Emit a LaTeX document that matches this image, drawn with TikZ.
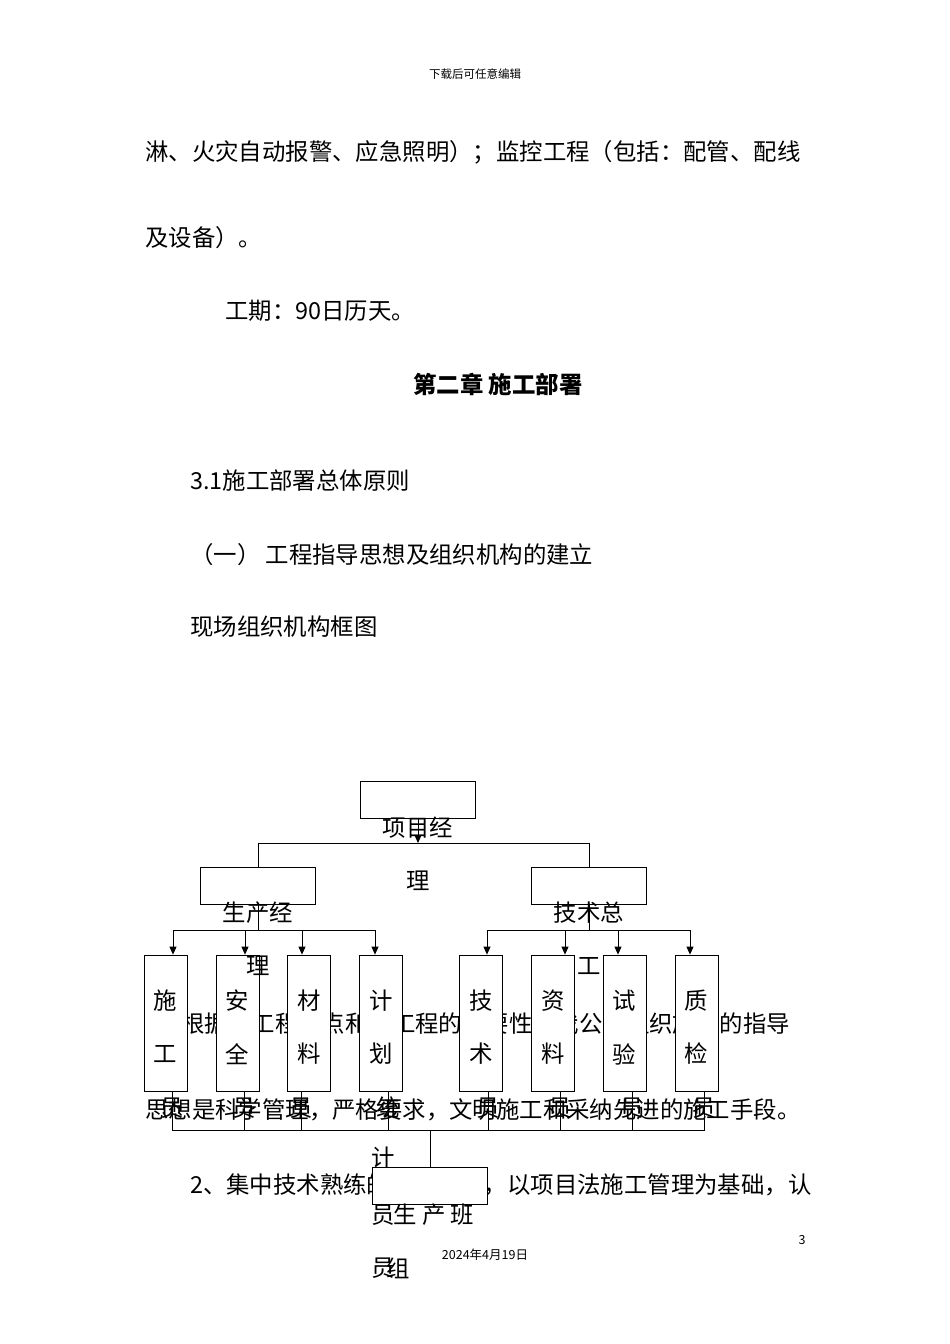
\documentclass[tikz,border=0pt]{standalone}
\usepackage{fontspec}
\setmainfont{Noto Sans CJK SC}
\usetikzlibrary{arrows.meta,calc}
\begin{document}
\begin{tikzpicture}[x=1pt,y=-1pt,
  body/.style={font=\fontsize{23.4}{28}\selectfont,inner sep=0pt,anchor=west},
  lab/.style={font=\fontsize{23.4}{28}\selectfont,inner sep=0pt},
  hbox/.style={draw,fill=white,line width=0.8pt,minimum width=115pt,minimum height=37pt,inner sep=0pt},
  vbox/.style={draw,fill=white,line width=0.8pt,minimum width=43pt,minimum height=136pt,inner sep=0pt},
  ln/.style={line width=0.8pt},
  arr/.style={line width=0.8pt,-{Triangle[length=8pt,width=7pt]}}]
\useasboundingbox (0,0) rectangle (950,1344);
\node[font=\fontsize{11.5}{13}\selectfont] (hdr) at (475,74) {下载后可任意编辑};
\node[body] (t1) at (145,152) {淋、火灾自动报警、应急照明）；监控工程（包括：配管、配线};
\node[body] (t2) at (145,238) {及设备）。};
\node[body] (t3) at (225,311) {工期：90日历天。};
\node[lab,font=\fontsize{23.4}{28}\selectfont\bfseries] (t4) at (498,384) {第二章 施工部署};
\node[body] (t5) at (190,481) {3.1施工部署总体原则};
\node[body] (t6) at (190,555) {（一） 工程指导思想及组织机构的建立};
\node[body] (t7) at (190,627) {现场组织机构框图};
\node[body] (t8) at (145,1024) {1、根据本工程特点和本工程的重要性，我公司组织施工的指导};
\node[body] (t9) at (145,1110) {思想是科学管理，严格要求，文明施工和采纳先进的施工手段。};
\node[body] (t10) at (190,1185) {2、集中技术熟练的生产班组，以项目法施工管理为基础，认};
\node[font=\fontsize{12.5}{14}\selectfont] (pg) at (802,1240) {3};
\node[font=\fontsize{12.5}{14}\selectfont] (dt) at (485,1255) {2024年4月19日};
% boxes
\node[hbox] (pm) at (418,799.5) {};
\node[hbox] (sc) at (258,886) {};
\node[hbox] (js) at (589,886) {};
\node[hbox] (bz) at (430,1185.5) {};
\foreach \n/\x/\a/\b in {v1/165.5/施/工,v2/237.5/安/全,v3/309/材/料,v4/381/计/划,v5/481/技/术,v6/553/资/料,v7/624.5/试/验,v8/696.5/质/检}{
  \node[vbox] (\n) at (\x,1023) {};
  \node[lab] at (\x,1001) {\a};
  \node[lab] at (\x,1054) {\b};
}
% labels
\node[lab] (l1) at (418,828) {项目经};
\node[lab] (l1b) at (418,881) {理};
\node[lab] (l2) at (258,913) {生产经};
\node[lab] (l2b) at (258,966) {理};
\node[lab] (l3) at (589,913) {技术总};
\node[lab] (l3b) at (589,966) {工};
\foreach \x in {172,244,301,488,560,632,704}{\node[lab] at (\x,1108) {员};}
\node[lab] at (388,1108) {统};
\node[lab] at (383,1158) {计};
\node[lab] at (383,1215) {员};
\node[lab] at (383,1268) {员};
\node[lab] (l4) at (434,1215) {生 产 班};
\node[lab] (l4b) at (398,1268) {组};
% connectors
\coordinate (j0) at (418,843);
\draw[arr] (pm.south) -- (j0);
\draw[ln] (sc.north) |- (j0) -| (js.north);
\coordinate (j1) at (258,930);
\coordinate (j2) at (589,930);
\draw[ln] (sc.south) -- (j1);
\draw[ln] (js.south) -- (j2);
\foreach \v/\d in {v1/7.5,v2/7.5,v3/-7,v4/-6}{\draw[arr] (j1) -| ($(\v.north)+(\d,0)$);}
\foreach \v/\d in {v5/6,v6/12,v7/-6.5,v8/-6.5}{\draw[arr] (j2) -| ($(\v.north)+(\d,0)$);}
\coordinate (j3) at (430,1130);
\foreach \v/\d in {v1/6.5,v2/6.5,v3/-8,v4/7,v5/7,v6/7,v7/7.5,v8/7.5}{\draw[ln] ($(\v.south)+(\d,0)$) |- (j3);}
\draw[ln] (j3) -- (bz.north);
\end{tikzpicture}
\end{document}
